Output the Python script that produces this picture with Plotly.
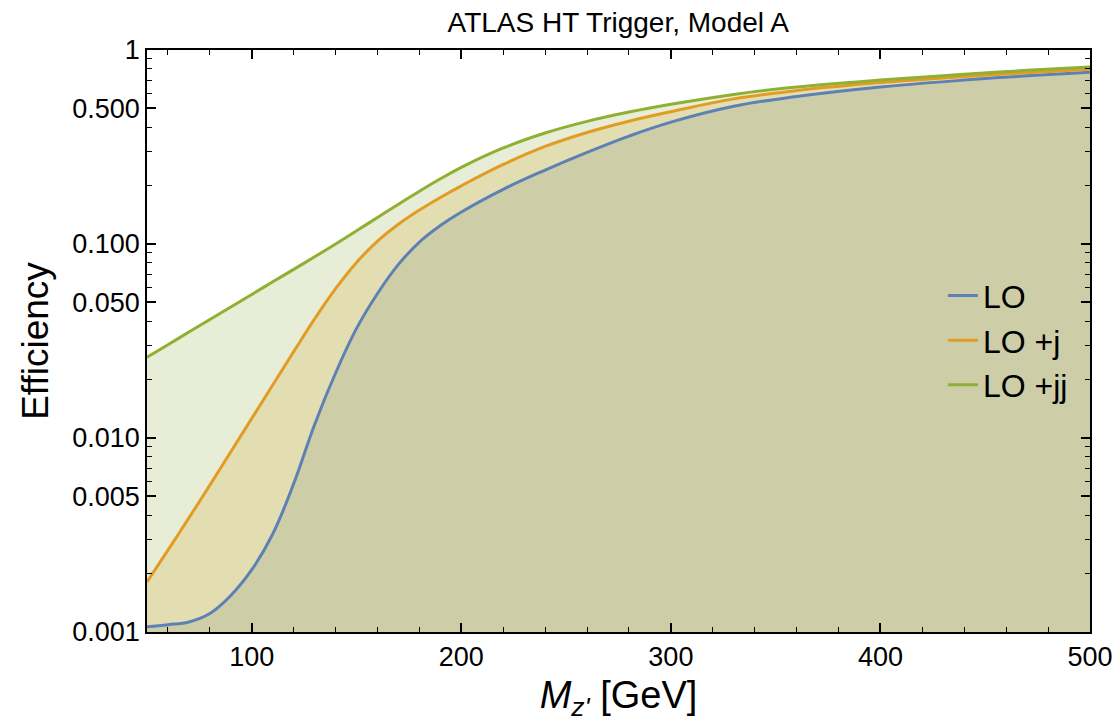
import plotly.graph_objects as go

# Z' mass grid [GeV]
mass = [50, 60, 70, 80, 90, 100, 110, 120, 130, 140, 150, 160, 170, 180, 190,
        200, 220, 240, 260, 280, 300, 330, 360, 400, 440, 470, 500]

# Trigger efficiency per jet multiplicity
eff_lo = [0.001064, 0.001091, 0.001127, 0.001245, 0.001542, 0.002094, 0.003199,
          0.005821, 0.01175, 0.02163, 0.03673, 0.05559, 0.07852, 0.1023, 0.1245,
          0.1462, 0.1914, 0.2404, 0.2965, 0.3597, 0.4246, 0.5129, 0.5754, 0.6442,
          0.6998, 0.7362, 0.7674]
eff_lo_j = [0.001811, 0.002642, 0.003873, 0.005715, 0.008492, 0.01262, 0.01875,
            0.02786, 0.04111, 0.05888, 0.08035, 0.1035, 0.1265, 0.1496, 0.1738,
            0.1995, 0.2570, 0.3184, 0.3758, 0.4295, 0.4808, 0.5598, 0.6180, 0.6792,
            0.7295, 0.7638, 0.7962]
eff_lo_jj = [0.02606, 0.03027, 0.03516, 0.04083, 0.04732, 0.05495, 0.06383,
             0.07396, 0.08590, 0.1000, 0.1169, 0.1371, 0.1603, 0.1871, 0.2168,
             0.2483, 0.3126, 0.3733, 0.4285, 0.4786, 0.5248, 0.5902, 0.6442,
             0.6998, 0.7499, 0.7852, 0.8166]

series = [("LO", eff_lo, "#5E81B5", "#CDCDA8"),
          ("LO +j", eff_lo_j, "#E19C24", "#E3DEB2"),
          ("LO +jj", eff_lo_jj, "#8FB032", "#E8EDD7")]

y_floor = 0.001
y_major = [0.001, 0.005, 0.01, 0.05, 0.1, 0.5, 1]
y_major_text = ["0.001", "0.005", "0.010", "0.050", "0.100", "0.500", "1"]
y_minor = [m * d for d in (0.001, 0.01, 0.1) for m in (2, 3, 4, 6, 7, 8, 9)]
x_major = [100, 200, 300, 400, 500]
x_minor = [60, 80, 120, 140, 160, 180, 220, 240, 260, 280, 320, 340, 360, 380,
           420, 440, 460, 480]

curve = dict(shape="spline", smoothing=1.1)

fig = go.Figure()

# filled bands, drawn bottom-up so each region keeps its own tint
fig.add_trace(go.Scatter(x=mass, y=[y_floor] * len(mass), mode="lines",
                         line=dict(width=0), showlegend=False, hoverinfo="skip"))
for name, vals, lc, fc in series:
    fig.add_trace(go.Scatter(x=mass, y=vals, mode="lines", fill="tonexty",
                             fillcolor=fc, line=dict(width=0, **curve),
                             showlegend=False, hoverinfo="skip"))

# curves on top
for name, vals, lc, fc in series:
    fig.add_trace(go.Scatter(x=mass, y=vals, mode="lines", name=name,
                             line=dict(color=lc, width=3, **curve)))

font = "Liberation Sans, Arial, sans-serif"
axis_common = dict(showline=True, linecolor="black", linewidth=1.5, mirror="ticks",
                   ticks="inside", ticklen=9, tickwidth=1.5, tickcolor="black",
                   showgrid=False, zeroline=False, automargin=False,
                   tickfont=dict(family=font, size=27, color="black"))

fig.update_xaxes(range=[50, 500], tickmode="array", tickvals=x_major,
                 minor=dict(tickmode="array", tickvals=x_minor, ticks="inside",
                            ticklen=5, tickwidth=1.2, tickcolor="black"),
                 title=dict(text="<i>M</i><sub><i>z'</i></sub> [GeV]",
                            font=dict(family=font, size=38, color="black"),
                            standoff=10),
                 **axis_common)
fig.update_yaxes(type="log", range=[-3, 0], tickmode="array", tickvals=y_major,
                 ticktext=y_major_text,
                 minor=dict(tickmode="array", tickvals=y_minor, ticks="inside",
                            ticklen=5, tickwidth=1.2, tickcolor="black"),
                 title=dict(text="Efficiency",
                            font=dict(family=font, size=37, color="black"),
                            standoff=12),
                 **axis_common)

fig.update_layout(
    width=1116, height=727,
    margin=dict(l=147, r=26, t=50, b=95),
    paper_bgcolor="white", plot_bgcolor="white",
    title=dict(text="ATLAS HT Trigger, Model A", x=0.554, xanchor="center",
               y=0.97, yanchor="middle",
               font=dict(family=font, size=28, color="black")),
    legend=dict(x=0.844, y=0.625, xanchor="left", yanchor="top",
                bgcolor="rgba(0,0,0,0)", borderwidth=0, traceorder="normal",
                font=dict(family=font, size=32, color="black"),
                tracegroupgap=0, itemwidth=30),
    showlegend=True,
)

fig.write_html("out.html")
